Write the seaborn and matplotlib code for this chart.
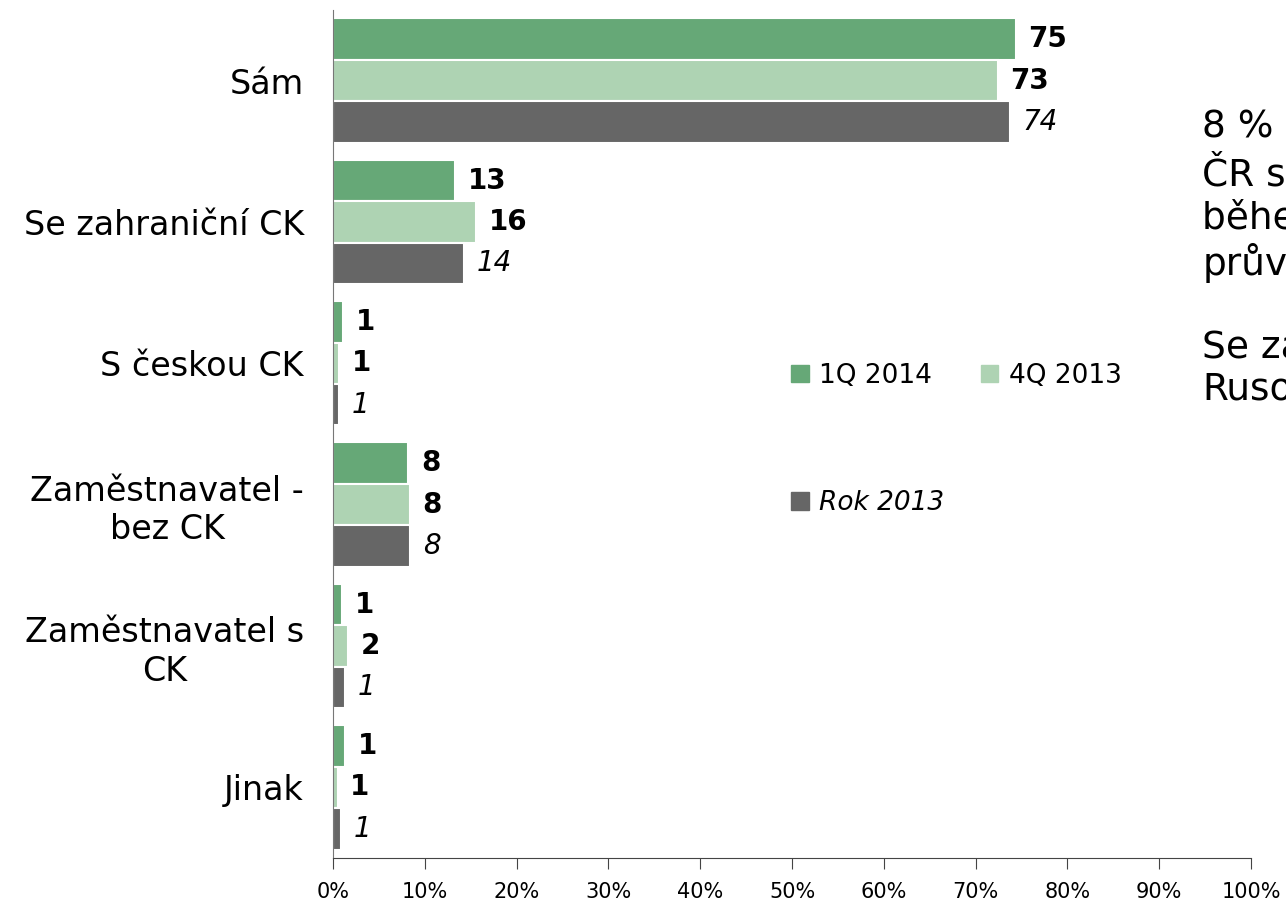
import pandas as pd
import matplotlib.pyplot as plt
import seaborn as sns
from matplotlib.patches import Patch

# Data
categories = ["Sám", "Se zahraniční CK", "S českou CK", "Zaměstnavatel -\nbez CK",
              "Zaměstnavatel s\nCK", "Jinak"]
series = ["1Q 2014", "4Q 2013", "Rok 2013"]
q1_2014 = [74.4, 13.3, 1.1, 8.2, 1.0, 1.3]
q4_2013 = [72.4, 15.6, 0.7, 8.4, 1.6, 0.5]
rok_2013 = [73.7, 14.3, 0.7, 8.4, 1.3, 0.9]
q1_labels = ["75", "13", "1", "8", "1", "1"]
q4_labels = ["73", "16", "1", "8", "2", "1"]
rok_labels = ["74", "14", "1", "8", "1", "1"]

colors = ["#66a877", "#aed3b3", "#666666"]

df = pd.DataFrame({
    "kategorie": categories * 3,
    "serie": [s for s in series for _ in categories],
    "hodnota": q1_2014 + q4_2013 + rok_2013,
})

sns.set_style("white", {"text.color": "black", "xtick.color": "black",
                        "ytick.color": "black"})
plt.rcParams["font.family"] = ["DejaVu Sans"]

fig = plt.figure(figsize=(12.86, 9.06), dpi=100)
ax = fig.add_axes([0.259, 0.053, 0.7138, 0.936])

sns.barplot(data=df, x="hodnota", y="kategorie", hue="serie", palette=colors,
            order=categories, hue_order=series, width=0.88, orient="h",
            saturation=1, edgecolor="white", linewidth=1.5, ax=ax, legend=False)

# value labels
for cont, labels, style in zip(ax.containers, [q1_labels, q4_labels, rok_labels],
                               ["bold", "bold", "italic"]):
    texts = ax.bar_label(cont, labels=labels, padding=9, fontsize=20, color="black")
    for t in texts:
        if style == "bold":
            t.set_fontweight("bold")
        else:
            t.set_fontstyle("italic")

ax.set_xlim(0, 100)
ax.set_ylim(len(categories) - 0.5, -0.5)
ax.set_xticks(range(0, 101, 10))
ax.set_xticklabels([f"{v}%" for v in range(0, 101, 10)], fontsize=15)
ax.set_yticks(range(len(categories)))
ax.set_yticklabels(categories, fontsize=24, multialignment="center")
ax.set_yticks([i - 0.5 for i in range(len(categories) + 1)], minor=True)
ax.tick_params(axis="y", which="major", length=0, pad=21)
ax.tick_params(axis="y", which="minor", length=8, color="#444444", direction="out")
ax.tick_params(axis="x", which="major", length=8, color="#444444", direction="out",
               bottom=True, pad=9)
ax.set_xlabel("")
ax.set_ylabel("")
for side in ["top", "right"]:
    ax.spines[side].set_visible(False)
ax.spines["left"].set_color("#777777")
ax.spines["bottom"].set_color("#444444")

# legend (ordered so that Rok 2013 sits under 1Q 2014)
handles = [Patch(color=colors[0]), Patch(color=colors[2]), Patch(color=colors[1])]
leg = fig.legend(handles, [series[0], series[2], series[1]], ncol=2,
                 loc="upper left", bbox_to_anchor=(0.597, 0.626), frameon=False,
                 fontsize=19, labelspacing=3.85, handlelength=0.65, handleheight=0.65,
                 handletextpad=0.4, columnspacing=1.4)
leg.get_texts()[1].set_fontstyle("italic")

# side note, cut off by the figure edge as in the original slide
fig.text(0.935, 0.884, "8 % turistů přijelo do\nČR s pomocí zaměstnavatele,\n"
         "během pobytu měli\nprůvodce.\n\nSe zahraniční CK jezdí hlavně\nRusové.",
         fontsize=27, va="top", ha="left", linespacing=1.17)

fig.savefig("out.png", dpi=100)
